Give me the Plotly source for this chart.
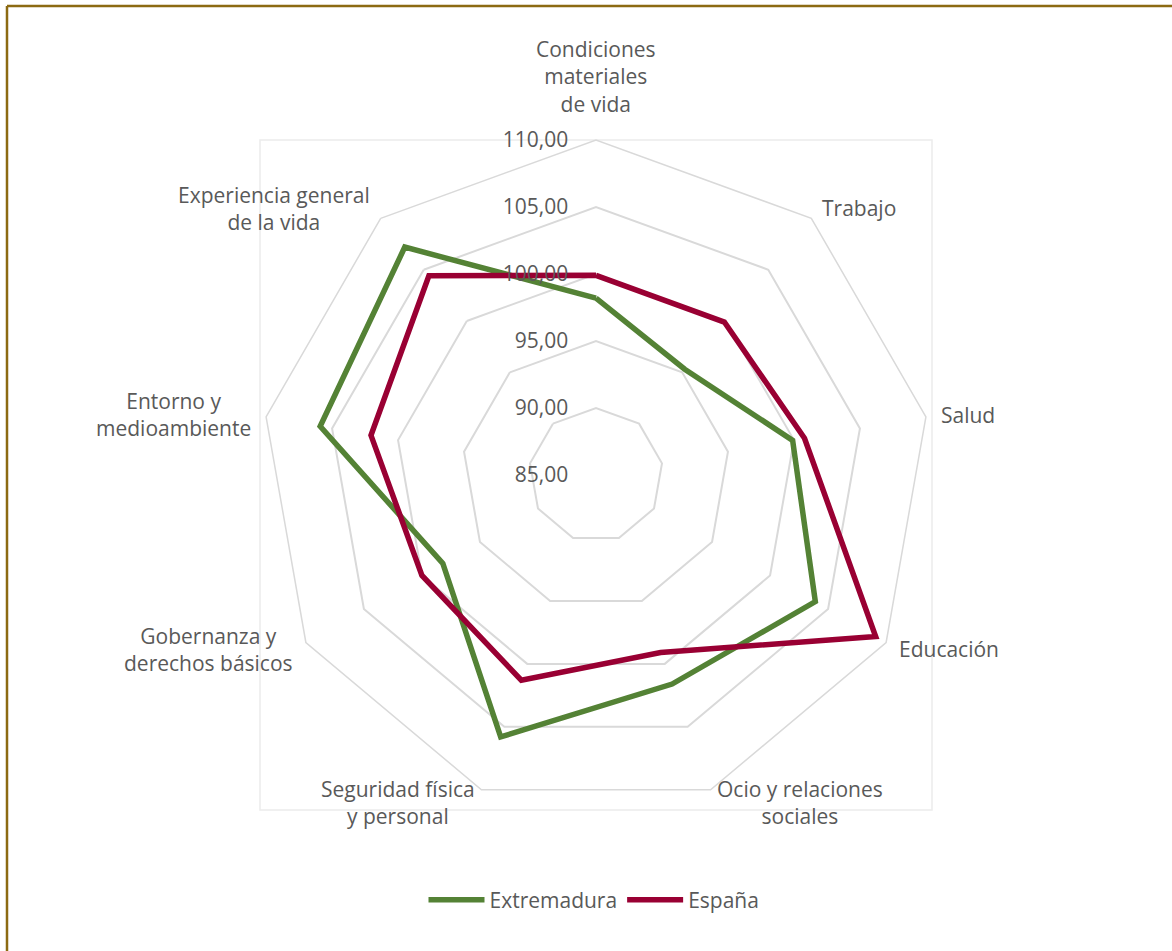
import math
import plotly.graph_objects as go

# categories clockwise from the top
categories = [
    "Condiciones materiales de vida",
    "Trabajo",
    "Salud",
    "Educación",
    "Ocio y relaciones sociales",
    "Seguridad física y personal",
    "Gobernanza y derechos básicos",
    "Entorno y medioambiente",
    "Experiencia general de la vida",
]
category_labels = [
    "Condiciones<br>materiales<br>de vida",
    "Trabajo",
    "Salud",
    "Educación",
    "Ocio y relaciones<br>sociales",
    "Seguridad física<br>y personal",
    "Gobernanza y<br>derechos básicos",
    "Entorno y<br>medioambiente",
    "Experiencia general<br>de la vida",
]
extremadura = [98.2, 95.3, 99.9, 103.9, 101.6, 105.8, 98.2, 105.9, 107.2]
espana = [99.9, 99.9, 100.8, 109.1, 99.1, 101.3, 100.0, 102.05, 104.4]
radial_ticks = [85, 90, 95, 100, 105, 110]

W, H = 1172, 951
TEXT = "#595959"
GRID = "#d9d9d9"
FONT = "Open Sans"
FS = 21

fig = go.Figure()
for name, vals, color in [("Extremadura", extremadura, "#548235"),
                          ("España", espana, "#990033")]:
    fig.add_trace(go.Scatterpolar(
        r=vals + vals[:1],
        theta=categories + categories[:1],
        mode="lines",
        name=name,
        line=dict(color=color, width=5.5),
    ))

# polar area in pixels (square)
x0, x1, y0, y1 = 260, 932, 140, 810
cx, cy = (x0 + x1) / 2, (y0 + y1) / 2
R = (y1 - y0) / 2
dom_x = [x0 / W, x1 / W]
dom_y = [1 - y1 / H, 1 - y0 / H]

# category labels placed just outside each outer vertex, text centred
annotations = []
n = len(categories)
for i, lab in enumerate(category_labels):
    a = math.radians(360 / n * i)
    s, c = math.sin(a), math.cos(a)
    off = 20 if c > 0.9 else 13
    px = cx + (R + off) * s
    py = cy - (R + off) * c
    xa = "left" if s > 0.1 else ("right" if s < -0.1 else "center")
    ya = "bottom" if c > 0.9 else "middle"
    annotations.append(dict(
        text=lab, x=px / W, y=1 - py / H, xref="paper", yref="paper",
        xanchor=xa, yanchor=ya, align="center", showarrow=False,
        font=dict(family=FONT, size=FS, color=TEXT),
    ))

fig.update_layout(
    width=W, height=H,
    margin=dict(l=0, r=0, t=0, b=0),
    paper_bgcolor="white",
    separators=",.",
    font=dict(family=FONT, size=FS, color=TEXT),
    polar=dict(
        domain=dict(x=dom_x, y=dom_y),
        bgcolor="white",
        gridshape="linear",
        radialaxis=dict(
            range=[85, 110],
            tickvals=radial_ticks,
            tickformat=".2f",
            angle=90,
            tickangle=90,
            side="counterclockwise",
            showline=False,
            ticks="outside",
            ticklen=20,
            tickcolor="rgba(0,0,0,0)",
            gridcolor=GRID,
            gridwidth=1.5,
            tickfont=dict(family=FONT, size=FS, color=TEXT),
        ),
        angularaxis=dict(
            direction="clockwise",
            rotation=90,
            showgrid=False,
            showticklabels=False,
            linecolor=GRID,
            linewidth=1.5,
            ticks="",
        ),
    ),
    annotations=annotations,
    showlegend=True,
    legend=dict(
        orientation="h",
        x=0.5 + 8 / W, xanchor="center",
        y=1 - 900 / H, yanchor="middle",
        itemwidth=56,
        tracegroupgap=0,
        font=dict(family=FONT, size=FS, color=TEXT),
    ),
    shapes=[
        # faint plot-area frame
        dict(type="rect", xref="paper", yref="paper",
             x0=dom_x[0], x1=dom_x[1], y0=dom_y[0], y1=dom_y[1],
             line=dict(color="#ececec", width=1.5), layer="below"),
        # chart border (only top and left visible in the crop)
        dict(type="line", xref="paper", yref="paper",
             x0=7 / W, x1=1.01, y0=1 - 6 / H, y1=1 - 6 / H,
             line=dict(color="#8c6a12", width=2.5)),
        dict(type="line", xref="paper", yref="paper",
             x0=7 / W, x1=7 / W, y0=-0.01, y1=1 - 6 / H,
             line=dict(color="#8c6a12", width=2.5)),
    ],
)

fig.write_html("out.html", config={"displayModeBar": False},
               post_script="document.body.style.margin='0px';")
